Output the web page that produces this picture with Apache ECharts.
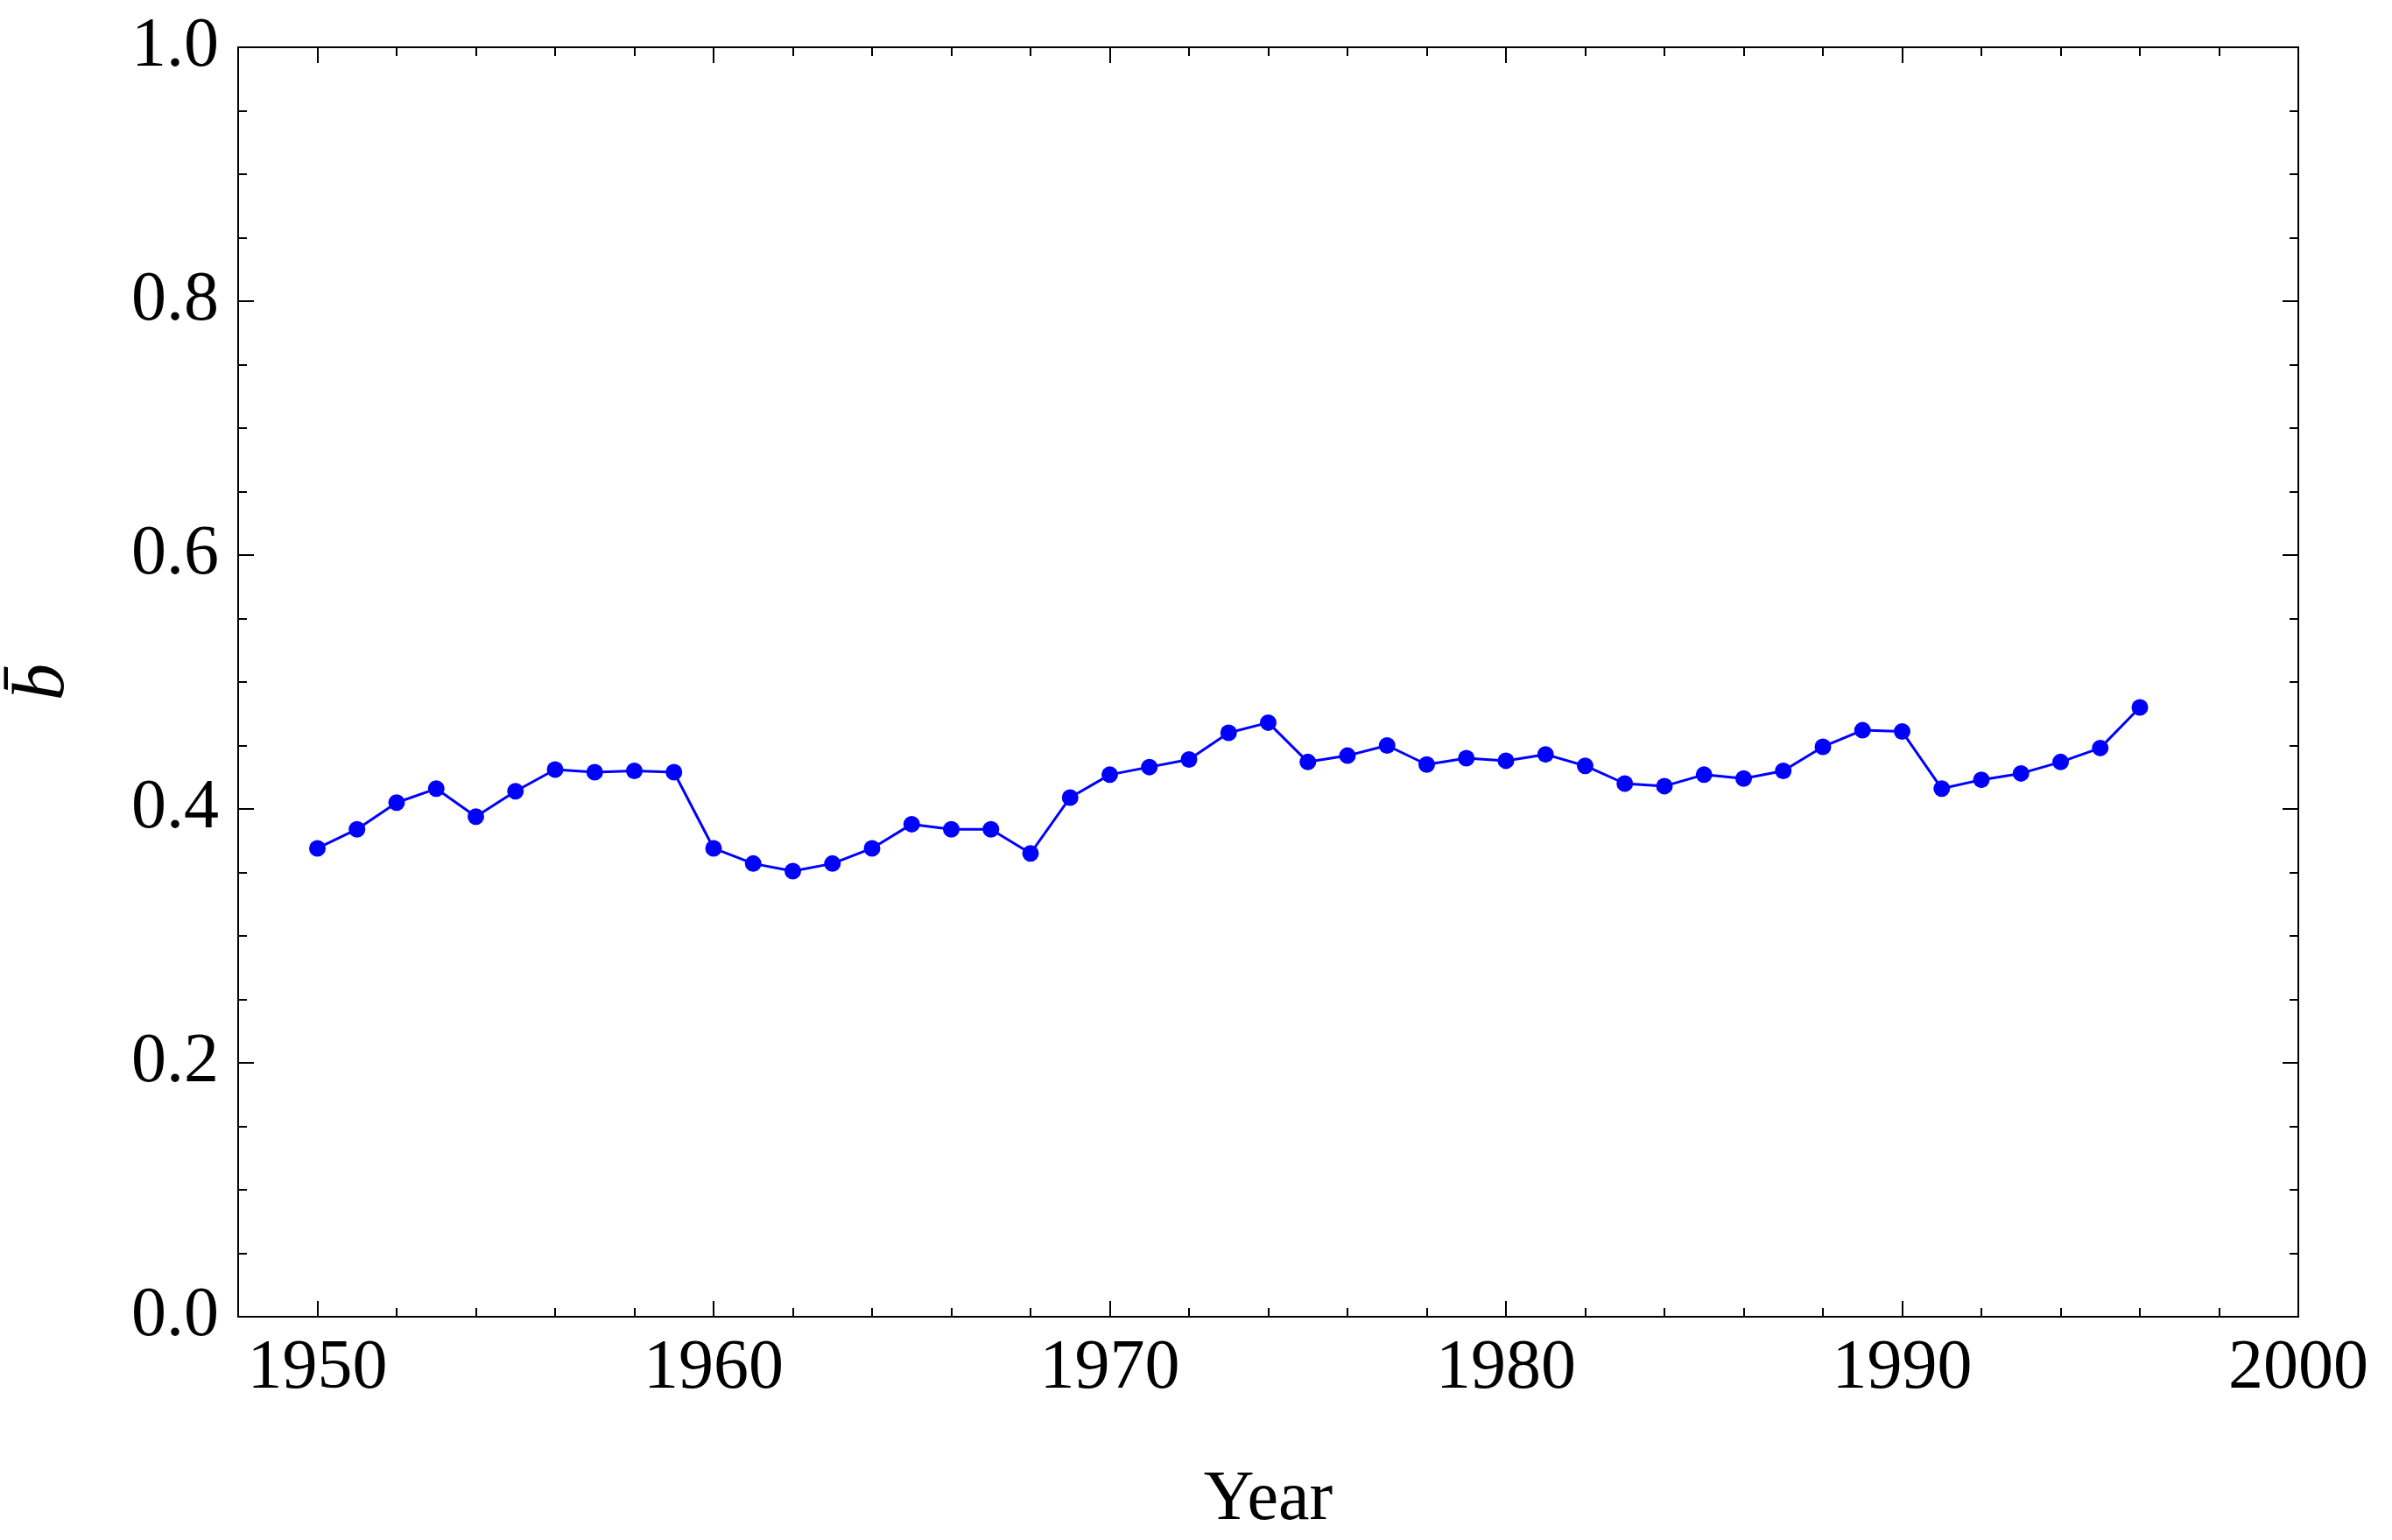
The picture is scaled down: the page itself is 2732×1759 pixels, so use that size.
<!DOCTYPE html>
<html><head><meta charset="utf-8">
<script src="https://cdn.jsdelivr.net/npm/echarts@6/dist/echarts.min.js"></script>
<style>html,body{margin:0;padding:0;background:#fff}#c{width:2732px;height:1759px}</style>
</head><body><div id="c"></div>
<script>
const years = [1950,1951,1952,1953,1954,1955,1956,1957,1958,1959,1960,1961,1962,1963,1964,1965,1966,1967,1968,1969,1970,1971,1972,1973,1974,1975,1976,1977,1978,1979,1980,1981,1982,1983,1984,1985,1986,1987,1988,1989,1990,1991,1992,1993,1994,1995,1996];
const values = [0.369,0.384,0.405,0.416,0.394,0.414,0.431,0.429,0.430,0.429,0.369,0.357,0.351,0.357,0.369,0.388,0.384,0.384,0.365,0.409,0.427,0.433,0.439,0.460,0.468,0.437,0.442,0.450,0.435,0.440,0.438,0.443,0.434,0.420,0.418,0.427,0.424,0.430,0.449,0.462,0.461,0.416,0.423,0.428,0.437,0.448,0.480];
const xMajor = [1950,1960,1970,1980,1990,2000];
const xMinor = [];
for (let y = 1948; y <= 2000; y += 2) xMinor.push(y);
const yMajor = [0,0.2,0.4,0.6,0.8,1.0];
const yMinor = [];
for (let i = 0; i <= 20; i++) yMinor.push(+(i*0.05).toFixed(2));

const font = 'Liberation Serif';
const line = {show:true, onZero:false, lineStyle:{color:'#000', width:2}};
function xa(pos, labels, ticks, len, extra) {
  return Object.assign({type:'value', min:1948, max:2000, position:pos, axisLine:line,
    splitLine:{show:false},
    axisTick:{show:true, inside:true, length:len, customValues:ticks, lineStyle:{color:'#000', width:2}},
    axisLabel:{show:labels, customValues:xMajor, fontFamily:font, fontSize:80, color:'#000', margin:20, formatter:v=>String(v)}}, extra||{});
}
function ya(pos, labels, ticks, len, extra) {
  return Object.assign({type:'value', min:0, max:1, position:pos, axisLine:line,
    splitLine:{show:false},
    axisTick:{show:true, inside:true, length:len, customValues:ticks, lineStyle:{color:'#000', width:2}},
    axisLabel:{show:labels, customValues:yMajor, fontFamily:font, fontSize:80, color:'#000', margin:22, formatter:v=>v.toFixed(1)}}, extra||{});
}
const chart = echarts.init(document.getElementById('c'));
chart.setOption({
  backgroundColor:'#fff',
  animation:false,
  grid:{left:245, right:93+14, top:54, bottom:229},
  xAxis:[
    xa('bottom', true, xMajor, 18, {name:'Year', nameLocation:'middle', nameGap:170, nameTextStyle:{fontFamily:font, fontSize:80, color:'#000'}}),
    xa('bottom', false, xMinor, 10),
    xa('top', false, xMajor, 18),
    xa('top', false, xMinor, 10)
  ],
  yAxis:[
    ya('left', true, yMajor, 18, {name:'b\u0304', nameLocation:'middle', nameGap:180, nameRotate:90, nameTextStyle:{fontFamily:font, fontSize:84, fontStyle:'italic', color:'#000'}}),
    ya('left', false, yMinor, 10),
    ya('right', false, yMajor, 18),
    ya('right', false, yMinor, 10)
  ],
  series:[{
    type:'line', xAxisIndex:0, yAxisIndex:0,
    data: years.map((y,i)=>[y, values[i]]),
    symbol:'circle', symbolSize:19,
    lineStyle:{color:'#0000ff', width:3},
    itemStyle:{color:'#0000ff'}
  }]
});
</script></body></html>
